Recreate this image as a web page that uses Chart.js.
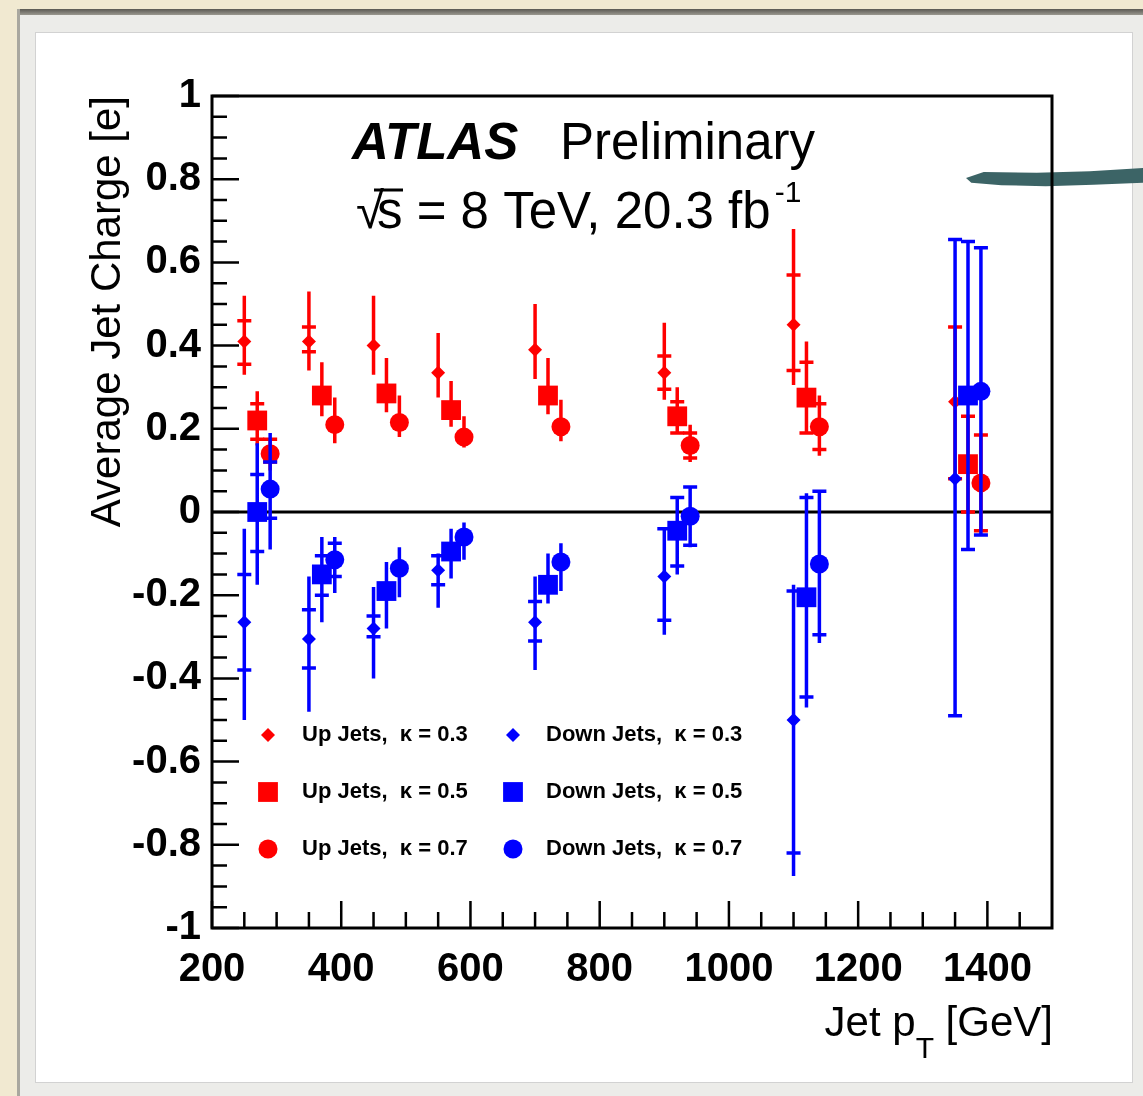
<!doctype html>
<html>
<head>
<title>Average Jet Charge vs Jet pT</title>
<script src="https://cdn.jsdelivr.net/npm/chart.js@4.4.1/dist/chart.umd.min.js"></script>
<style>
    body { margin: 0; background: #f1e9d1; }
    #page { position: relative; width: 1143px; height: 1096px; overflow: hidden; }
    #mat { position: absolute; left: 17px; top: 9px; right: 0; bottom: 0; background: #ecece9; }
    #shadowTop { position: absolute; left: 17px; top: 9px; right: 0; height: 6px; background: linear-gradient(#5b5953, #9a988f); }
    #shadowLeft { position: absolute; left: 17px; top: 9px; width: 3px; bottom: 0; background: #a9a79f; }
    #panel { position: absolute; left: 35px; top: 32px; width: 1098px; height: 1051px; background: #fff; border: 1px solid #d2d2d2; box-sizing: border-box; }
    #stroke { position: absolute; left: 966px; top: 166px; width: 177px; height: 24px; background: #3c6466;
        clip-path: polygon(0 50%, 10% 25%, 40% 28%, 70% 22%, 100% 8%, 100% 70%, 72% 78%, 45% 84%, 20% 80%, 3% 70%); }
    canvas { position: absolute; left: 0; top: 0; }
</style>
</head>

<body>
<div id="page">
    <div id="mat"></div>
    <div id="shadowTop"></div>
    <div id="shadowLeft"></div>
    <div id="panel"></div>
    <div id="stroke"></div>
    <canvas id="chart" width="1143" height="1096"></canvas>
</div>

<script>
    // jet pT bin centres (GeV), shifted per kappa like in the original plot
    const ptK03 = [250, 350, 450, 550, 700, 900, 1100, 1350];
    const ptK05 = [270, 370, 470, 570, 720, 920, 1120, 1370];
    const ptK07 = [290, 390, 490, 590, 740, 940, 1140, 1390];

    const xTicks = [200, 400, 600, 800, 1000, 1200, 1400];
    const yTicks = [-1, -0.8, -0.6, -0.4, -0.2, 0, 0.2, 0.4, 0.6, 0.8, 1];

    // up jets: value, total error band [lo, hi], stat error ticks [lo, hi]
    const upK03 = [0.41, 0.41, 0.40, 0.335, 0.39, 0.335, 0.45, 0.265];
    const upK03Tot = [[0.33, 0.52], [0.34, 0.53], [0.33, 0.52], [0.275, 0.43], [0.32, 0.50], [0.27, 0.455], [0.305, 0.68], [0.08, 0.445]];
    const upK03Stat = [[0.355, 0.46], [0.385, 0.445], null, null, null, [0.295, 0.375], [0.34, 0.57], [0.08, 0.445]];

    const upK05 = [0.22, 0.28, 0.285, 0.245, 0.28, 0.23, 0.275, 0.115];
    const upK05Tot = [[0.16, 0.29], [0.23, 0.36], [0.24, 0.37], [0.205, 0.315], [0.235, 0.37], [0.19, 0.30], [0.19, 0.41], [0.0, 0.23]];
    const upK05Stat = [[0.175, 0.26], null, null, null, null, [0.19, 0.265], [0.19, 0.36], [0.0, 0.23]];

    const upK07 = [0.14, 0.21, 0.215, 0.18, 0.205, 0.16, 0.205, 0.07];
    const upK07Tot = [[0.10, 0.175], [0.165, 0.275], [0.18, 0.28], [0.155, 0.23], [0.17, 0.27], [0.12, 0.21], [0.135, 0.28], [-0.045, 0.185]];
    const upK07Stat = [[0.12, 0.175], null, null, null, null, [0.13, 0.19], [0.15, 0.26], [-0.045, 0.185]];

    // down jets
    const downK03 = [-0.265, -0.305, -0.28, -0.14, -0.265, -0.155, -0.50, 0.08];
    const downK03Tot = [[-0.50, -0.04], [-0.48, -0.155], [-0.40, -0.18], [-0.23, -0.10], [-0.38, -0.155], [-0.295, -0.04], [-0.875, -0.175], [-0.49, 0.655]];
    const downK03Stat = [[-0.38, -0.15], [-0.375, -0.235], [-0.30, -0.25], [-0.175, -0.105], [-0.31, -0.215], [-0.26, -0.04], [-0.82, -0.19], [-0.49, 0.655]];

    const downK05 = [0.0, -0.15, -0.19, -0.095, -0.175, -0.045, -0.205, 0.28];
    const downK05Tot = [[-0.175, 0.165], [-0.265, -0.06], [-0.28, -0.12], [-0.16, -0.04], [-0.22, -0.10], [-0.15, 0.035], [-0.47, 0.045], [-0.09, 0.65]];
    const downK05Stat = [[-0.095, 0.09], [-0.20, -0.105], null, null, null, [-0.13, 0.035], [-0.445, 0.035], [-0.09, 0.65]];

    const downK07 = [0.055, -0.115, -0.135, -0.06, -0.12, -0.01, -0.125, 0.29];
    const downK07Tot = [[-0.09, 0.19], [-0.195, -0.06], [-0.205, -0.085], [-0.115, -0.025], [-0.19, -0.075], [-0.085, 0.06], [-0.315, 0.05], [-0.055, 0.635]];
    const downK07Stat = [[-0.015, 0.12], [-0.155, -0.075], null, null, null, [-0.08, 0.06], [-0.295, 0.05], [-0.055, 0.635]];

    const RED = '#ff0000';
    const BLUE = '#0000ff';
    const FONT = '"Liberation Sans", Arial, Helvetica, sans-serif';

    function series(label, pts, vals, tot, stat, color, style, radius, order) {
        return {
            label: label,
            data: pts.map((x, i) => ({ x: x, y: vals[i] })),
            tot: tot,
            stat: stat,
            backgroundColor: color,
            borderColor: color,
            pointStyle: style,
            pointRadius: radius,
            pointHoverRadius: radius,
            pointBorderWidth: 0,
            showLine: false,
            order: order
        };
    }

    // vertical error bars, drawn just before each dataset's markers
    const errorBars = {
        id: 'errorBars',
        beforeDatasetDraw(chart, args) {
            const ds = chart.data.datasets[args.index];
            const { ctx, scales: { x, y } } = chart;
            ctx.save();
            ctx.strokeStyle = ds.borderColor;
            ctx.lineWidth = 3.5;
            ctx.beginPath();
            ds.data.forEach((p, i) => {
                const px = x.getPixelForValue(p.x);
                ctx.moveTo(px, y.getPixelForValue(ds.tot[i][0]));
                ctx.lineTo(px, y.getPixelForValue(ds.tot[i][1]));
                if (ds.stat[i]) {
                    ds.stat[i].forEach(v => {
                        const py = y.getPixelForValue(v);
                        ctx.moveTo(px - 7, py);
                        ctx.lineTo(px + 7, py);
                    });
                }
            });
            ctx.stroke();
            ctx.restore();
        }
    };

    // ROOT-like frame with inner ticks and the zero line
    const frame = {
        id: 'frame',
        beforeDatasetsDraw(chart) {
            const { ctx, chartArea: a, scales: { y } } = chart;
            ctx.save();
            ctx.strokeStyle = '#000';
            ctx.lineWidth = 3;
            ctx.beginPath();
            ctx.moveTo(a.left, y.getPixelForValue(0));
            ctx.lineTo(a.right, y.getPixelForValue(0));
            ctx.stroke();
            ctx.restore();
        },
        afterDraw(chart) {
            const { ctx, chartArea: a, scales: { x, y } } = chart;
            ctx.save();
            ctx.strokeStyle = '#000';
            ctx.lineWidth = 3;
            ctx.strokeRect(a.left, a.top, a.right - a.left, a.bottom - a.top);
            ctx.lineWidth = 2.5;
            ctx.beginPath();
            for (let v = 200; v < 1500; v += 50) {
                const px = x.getPixelForValue(v);
                ctx.moveTo(px, a.bottom);
                ctx.lineTo(px, a.bottom - (v % 200 === 0 ? 27 : 16));
            }
            for (let k = -20; k <= 20; k++) {
                const py = y.getPixelForValue(k * 0.05);
                ctx.moveTo(a.left, py);
                ctx.lineTo(a.left + (k % 4 === 0 ? 27 : 15), py);
            }
            ctx.stroke();
            ctx.restore();
        }
    };

    // labels, titles and the two column legend inside the frame
    const texts = {
        id: 'texts',
        afterDraw(chart) {
            const { ctx, chartArea: a } = chart;
            ctx.save();
            ctx.fillStyle = '#000';

            // ATLAS Preliminary
            ctx.textBaseline = 'alphabetic';
            ctx.textAlign = 'left';
            ctx.font = 'italic bold 51px ' + FONT;
            ctx.fillText('ATLAS', a.left + 140, a.top + 63);
            ctx.font = '51px ' + FONT;
            ctx.fillText('Preliminary', a.left + 348, a.top + 63);

            // sqrt(s) line
            const bx = a.left + 146, by = a.top + 132;
            ctx.fillText('\u221A', bx - 2, by);
            const sx = bx + 19;
            ctx.fillText('s = 8 TeV, 20.3 fb', sx, by);
            ctx.lineWidth = 3;
            ctx.beginPath();
            ctx.moveTo(sx - 3, by - 38);
            ctx.lineTo(sx + 26, by - 38);
            ctx.stroke();
            const w = ctx.measureText('s = 8 TeV, 20.3 fb').width;
            ctx.font = '30px ' + FONT;
            ctx.fillText('-1', sx + w + 4, by - 26);

            // y axis title, right aligned to the top of the axis
            ctx.save();
            ctx.translate(a.left - 92, a.top);
            ctx.rotate(-Math.PI / 2);
            ctx.font = '42px ' + FONT;
            ctx.textAlign = 'right';
            ctx.fillText('Average Jet Charge [e]', 0, 0);
            ctx.restore();

            // x axis title with subscript T, right aligned
            ctx.font = '42px ' + FONT;
            const p1 = 'Jet p', p3 = ' [GeV]';
            const w1 = ctx.measureText(p1).width, w3 = ctx.measureText(p3).width;
            ctx.font = '30px ' + FONT;
            const w2 = ctx.measureText('T').width;
            const tx = a.right + 1 - (w1 + w2 + w3), ty = a.bottom + 108;
            ctx.font = '42px ' + FONT;
            ctx.fillText(p1, tx, ty);
            ctx.fillText(p3, tx + w1 + w2, ty);
            ctx.font = '30px ' + FONT;
            ctx.fillText('T', tx + w1, ty + 22);

            // legend
            const rows = [a.top + 639, a.top + 696, a.top + 753];
            const cols = [{ mark: a.left + 56, text: a.left + 90 }, { mark: a.left + 301, text: a.left + 334 }];
            ctx.font = 'bold 22px ' + FONT;
            ctx.textBaseline = 'middle';
            chart.data.datasets.forEach((ds, i) => {
                const col = cols[ds.legendCol];
                const row = rows[ds.legendRow];
                ctx.fillStyle = ds.backgroundColor;
                Chart.helpers.drawPoint(ctx, { pointStyle: ds.pointStyle, radius: ds.pointRadius, rotation: 0, borderWidth: 0 }, col.mark, row);
                ctx.fillStyle = '#000';
                ctx.fillText(ds.label, col.text, row);
            });
            ctx.restore();
        }
    };

    const datasets = [
        series('Up Jets,  \u03BA = 0.3', ptK03, upK03, upK03Tot, upK03Stat, RED, 'rectRot', 7, 1),
        series('Up Jets,  \u03BA = 0.5', ptK05, upK05, upK05Tot, upK05Stat, RED, 'rect', 14, 1),
        series('Up Jets,  \u03BA = 0.7', ptK07, upK07, upK07Tot, upK07Stat, RED, 'circle', 9.5, 1),
        series('Down Jets,  \u03BA = 0.3', ptK03, downK03, downK03Tot, downK03Stat, BLUE, 'rectRot', 7, 0),
        series('Down Jets,  \u03BA = 0.5', ptK05, downK05, downK05Tot, downK05Stat, BLUE, 'rect', 14, 0),
        series('Down Jets,  \u03BA = 0.7', ptK07, downK07, downK07Tot, downK07Stat, BLUE, 'circle', 9.5, 0)
    ];
    datasets.forEach((ds, i) => { ds.legendCol = i < 3 ? 0 : 1; ds.legendRow = i % 3; });

    const ctx = document.getElementById('chart');
    const tickFont = { family: FONT, size: 40, weight: 'bold' };

    const myChart = new Chart(ctx, {
        type: 'scatter',
        data: { datasets: datasets },
        options: {
            responsive: false,
            animation: false,
            devicePixelRatio: 1,
            layout: { padding: { left: 62, top: 96, right: 91, bottom: 68 } },
            plugins: { legend: { display: false }, tooltip: { enabled: false } },
            scales: {
                x: {
                    type: 'linear',
                    min: 200,
                    max: 1500,
                    grid: { display: false, drawTicks: false },
                    border: { display: false },
                    afterBuildTicks: s => { s.ticks = xTicks.map(v => ({ value: v })); },
                    afterFit: s => { s.height = 100; },
                    ticks: { font: tickFont, color: '#000', padding: 18, autoSkip: false, maxRotation: 0, callback: v => String(v) }
                },
                y: {
                    type: 'linear',
                    min: -1,
                    max: 1,
                    grid: { display: false, drawTicks: false },
                    border: { display: false },
                    afterBuildTicks: s => { s.ticks = yTicks.map(v => ({ value: v })); },
                    afterFit: s => { s.width = 150; },
                    ticks: { font: tickFont, color: '#000', padding: 11, autoSkip: false, callback: v => String(Math.round(v * 10) / 10) }
                }
            }
        },
        plugins: [errorBars, frame, texts]
    });
</script>
</body>
</html>
